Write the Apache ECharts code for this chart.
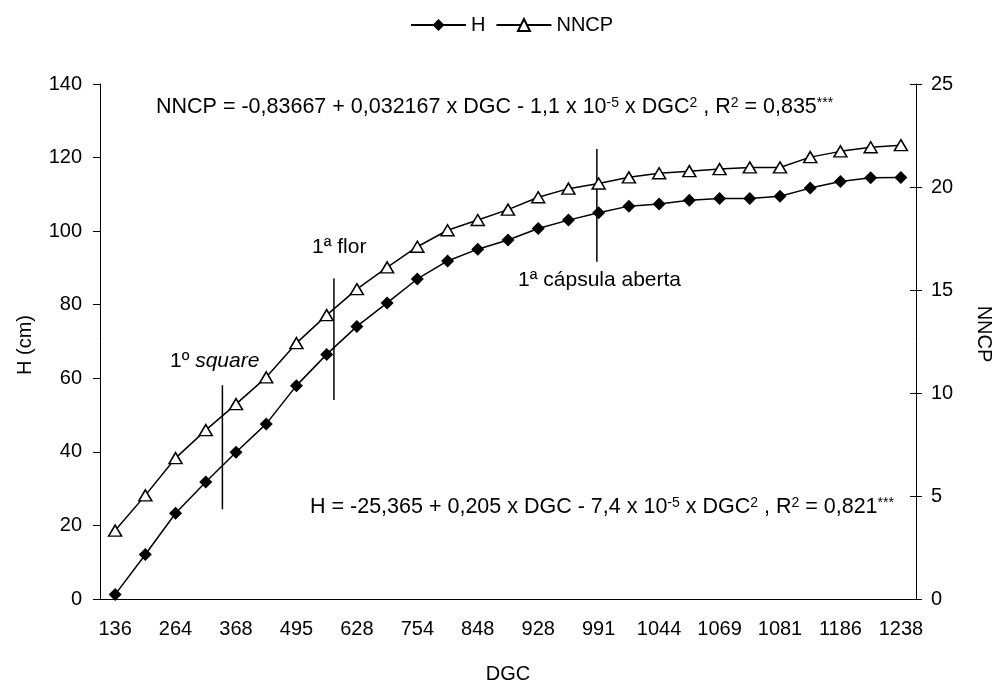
<!DOCTYPE html>
<html>
<head>
<meta charset="utf-8">
<script src="https://cdn.jsdelivr.net/npm/echarts@6/dist/echarts.min.js"></script>
<style>
  html, body { margin: 0; padding: 0; background: #fff; }
  #chart { width: 993px; height: 689px; }
</style>
</head>
<body>
<div id="chart"></div>
<script>
// Degree-days (DGC) sampling points
const dgc = ['136', '200', '264', '316', '368', '432', '495', '562', '628', '691', '754', '801', '848',
             '888', '928', '960', '991', '1018', '1044', '1057', '1069', '1075', '1081', '1134', '1186', '1212', '1238'];

// Plant height, cm (left axis)
const heightH = [1.2, 12.1, 23.3, 31.8, 39.9, 47.6, 58.0, 66.5, 74.1, 80.5, 87.0, 91.9, 95.1, 97.6, 100.7, 103.0,
                 105.0, 106.8, 107.4, 108.4, 108.9, 108.9, 109.5, 111.7, 113.5, 114.5, 114.6];

// Number of nodes on the main stem, NNCP (right axis)
const nncp = [3.32, 5.03, 6.84, 8.2, 9.46, 10.76, 12.42, 13.78, 15.04, 16.1, 17.1, 17.9, 18.4, 18.9,
              19.5, 19.92, 20.17, 20.47, 20.67, 20.77, 20.87, 20.95, 20.95, 21.45, 21.73, 21.93, 22.03];

// Phenological stages: position along the category axis and vertical extent in H units
const stageNames = ['1º square', '1ª flor', '1ª cápsula aberta'];
const stageX = [4.05, 7.74, 16.44];
const stageLow = [24.4, 54.1, 91.7];
const stageHigh = [58.1, 87.1, 122.3];

const FONT = '"Liberation Sans", Arial, sans-serif';
const chart = echarts.init(document.getElementById('chart'));

const stageSeries = stageNames.map((name, i) => ({
  type: 'line',
  xAxisIndex: 1,
  yAxisIndex: 0,
  silent: true,
  symbol: 'none',
  lineStyle: { color: '#000', width: 1.5 },
  data: [[stageX[i], stageLow[i]], [stageX[i], stageHigh[i]]],
  z: 1
}));

const supRich = {
  sup: { fontSize: 14, fontFamily: FONT, fill: '#000', verticalAlign: 'top', lineHeight: 13 },
  it: { fontSize: 21, fontFamily: FONT, fontStyle: 'italic', fill: '#000' }
};

function textEl(text, x, y, size, rotation) {
  return {
    type: 'text',
    x: x, y: y,
    rotation: rotation || 0,
    style: {
      text: text,
      fontSize: size, fontFamily: FONT, fill: '#000',
      verticalAlign: 'middle', align: rotation ? 'center' : 'left',
      rich: supRich
    },
    z: 10
  };
}

chart.setOption({
  animation: false,
  backgroundColor: '#fff',
  textStyle: { fontFamily: FONT, color: '#000' },
  legend: {
    top: 10,
    left: 405,
    itemWidth: 55,
    itemHeight: 15,
    itemGap: 10,
    textStyle: { fontSize: 20, color: '#000', fontFamily: FONT },
    data: ['H', 'NNCP']
  },
  grid: { left: 100, right: 77, top: 84, bottom: 82 },
  xAxis: [{
    type: 'category',
    data: dgc,
    boundaryGap: true,
    name: 'DGC',
    nameLocation: 'middle',
    nameGap: 65,
    nameTextStyle: { fontSize: 20, color: '#000' },
    axisLine: { lineStyle: { color: '#000', width: 1 } },
    axisTick: { interval: 0, length: 6, lineStyle: { color: '#000' } },
    axisLabel: { interval: 1, fontSize: 20, color: '#000', margin: 20 },
    splitLine: { show: false }
  }, {
    type: 'value',
    min: 0, max: 27,
    show: false
  }],
  yAxis: [{
    type: 'value',
    min: 0, max: 140, interval: 20,
    axisLine: { show: true, lineStyle: { color: '#000', width: 1 } },
    axisTick: { show: true, length: 7, lineStyle: { color: '#000' } },
    axisLabel: { fontSize: 20, color: '#000', margin: 18 },
    splitLine: { show: false }
  }, {
    type: 'value',
    min: 0, max: 25, interval: 5,
    position: 'right',
    axisLine: { show: true, lineStyle: { color: '#000', width: 1 } },
    axisTick: { show: true, length: 6, lineStyle: { color: '#000' } },
    axisLabel: { fontSize: 20, color: '#000', margin: 15 },
    splitLine: { show: false }
  }, {
    // inner half of the crossing ticks on the right axis
    type: 'value',
    min: 0, max: 25, interval: 5,
    position: 'right',
    axisLine: { show: false },
    axisTick: { show: true, inside: true, length: 6, lineStyle: { color: '#000' } },
    axisLabel: { show: false },
    splitLine: { show: false }
  }],
  series: [{
    name: 'H',
    type: 'line',
    yAxisIndex: 0,
    data: heightH,
    symbol: 'diamond',
    symbolSize: 13,
    lineStyle: { color: '#000', width: 1.5 },
    itemStyle: { color: '#000' },
    z: 3
  }, {
    name: 'NNCP',
    type: 'line',
    yAxisIndex: 1,
    data: nncp,
    symbol: 'triangle',
    symbolSize: [13, 11],
    lineStyle: { color: '#000', width: 1.5 },
    itemStyle: { color: '#fff', borderColor: '#000', borderWidth: 1.5 },
    z: 3
  }].concat(stageSeries),
  graphic: [
    textEl('NNCP = -0,83667 + 0,032167 x DGC - 1,1 x 10{sup|-5} x DGC{sup|2} , R{sup|2} = 0,835{sup|***}', 156, 107, 21.5),
    textEl('H = -25,365 + 0,205 x DGC - 7,4 x 10{sup|-5} x DGC{sup|2} , R{sup|2} = 0,821{sup|***}', 310, 507, 21.5),
    textEl('1º {it|square}', 170, 361, 21),
    textEl(stageNames[1], 312, 247, 21),
    textEl(stageNames[2], 518, 280, 21),
    textEl('H (cm)', 25, 345, 20, Math.PI / 2),
    textEl('NNCP', 984, 334, 20, -Math.PI / 2)
  ]
});
</script>
</body>
</html>
